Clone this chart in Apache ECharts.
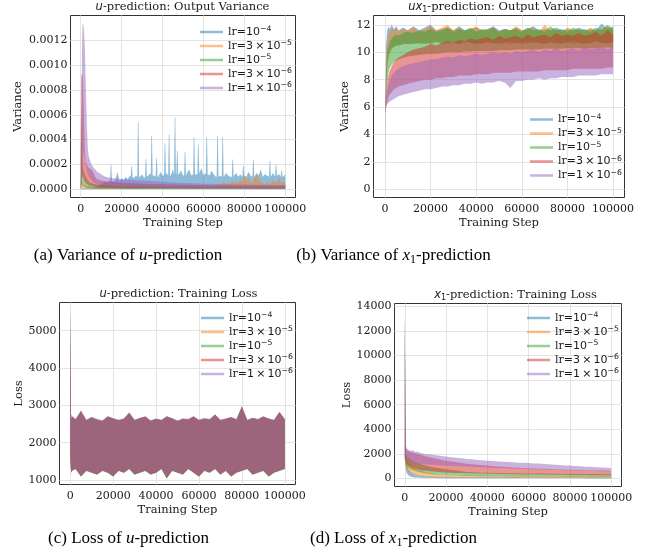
<!DOCTYPE html>
<html><head><meta charset="utf-8">
<script src="https://cdn.jsdelivr.net/npm/echarts@6/dist/echarts.min.js"></script>
<style>html,body{margin:0;padding:0;background:#fff}#c{width:646px;height:556px}</style>
</head><body><div id="c"></div>
<script>
// ---------------- data ----------------
const NAMES = ['lr=10⁻⁴', 'lr=3×10⁻⁵', 'lr=10⁻⁵', 'lr=3×10⁻⁶', 'lr=1×10⁻⁶'];
const X_TICKS = [0, 20000, 40000, 60000, 80000, 100000];
const A_Y_TICKS = [0, 0.0002, 0.0004, 0.0006, 0.0008, 0.0010, 0.0012];
const B_Y_TICKS = [0, 2, 4, 6, 8, 10, 12];
const C_Y_TICKS = [1000, 2000, 3000, 4000, 5000];
const D_Y_TICKS = [0, 2000, 4000, 6000, 8000, 10000, 12000, 14000];

// (a) u-prediction output variance
const A_STEPS = [0, 300, 600, 900, 1200, 1500, 2000, 2500, 3000, 3500, 4000, 5000, 6000, 7000, 8000, 10000, 12000, 15000, 18000, 21000, 25000, 30000, 35000, 40000, 45000, 50000, 55000, 60000, 65000, 70000, 75000, 80000, 85000, 90000, 95000, 100000];
// lr=1e-4 upper envelope as [step, variance] pairs (spiky)
const A_BLUE_HI_PTS = [[0, 0.000008], [1000, 0.00001], [2000, 0.000008], [3000, 0.00001], [4000, 0.000009], [5000, 0.00001], [6000, 0.000012], [7000, 0.000015], [8000, 0.00002], [9000, 0.00003], [10000, 0.00004], [11000, 0.00005], [12000, 0.00006], [13000, 0.00005], [14000, 0.00007],
  [14350, 0.00007], [14650, 0.0002], [14950, 0.0002], [15250, 0.00007],
  [16000, 0.00006], [17000, 0.00008], [18000, 0.00014], [19000, 0.00006], [20000, 0.00009], [21000, 0.00007], [22000, 0.0001], [23000, 0.00008], [24000, 0.00011],
  [24450, 0.0001], [24750, 0.000185], [25050, 0.000185], [25350, 0.0001],
  [26000, 0.00009], [27000, 0.00011],
  [27650, 0.0001], [27950, 0.00054], [28250, 0.00054], [28550, 0.0001],
  [29000, 0.0001], [30000, 0.00012], [31000, 0.00009],
  [31450, 0.0001], [31750, 0.000243], [32050, 0.000243], [32350, 0.0001],
  [33000, 0.00011], [34000, 0.00013],
  [34250, 0.00011], [34550, 0.00043], [34850, 0.00043], [35150, 0.00011],
  [36000, 0.00011],
  [36650, 0.0001], [36950, 0.00025], [37250, 0.00025], [37550, 0.0001],
  [38000, 0.0001], [39000, 0.00014], [40000, 0.00011],
  [40750, 0.00011], [41050, 0.00037], [41350, 0.00037], [41650, 0.00012],
  [42000, 0.00013],
  [42750, 0.00011], [43050, 0.00044], [43350, 0.00044], [43650, 0.00011],
  [44000, 0.00011], [45000, 0.00016],
  [45650, 0.00012], [45950, 0.00058], [46250, 0.00058], [46550, 0.00012],
  [46750, 0.00012], [47050, 0.00031], [47350, 0.00031], [47650, 0.00012],
  [48000, 0.00012], [49000, 0.00015], [50000, 0.00011],
  [50550, 0.00011], [50850, 0.0003], [51150, 0.0003], [51450, 0.00011],
  [52000, 0.00013], [53000, 0.00016], [54000, 0.00011],
  [54950, 0.00012], [55250, 0.00042], [55550, 0.00042], [55850, 0.00012],
  [56000, 0.00012],
  [57050, 0.00012], [57350, 0.00036], [57650, 0.00036], [57950, 0.00012],
  [58000, 0.00013], [59000, 0.00017], [60000, 0.00011], [61000, 0.00013],
  [61150, 0.00012], [61450, 0.00042], [61750, 0.00042], [62050, 0.00012],
  [63000, 0.00011], [64000, 0.00015], [65000, 0.00012], [66000, 0.0001],
  [66450, 0.0001], [66750, 0.00043], [67050, 0.00043], [67350, 0.0001],
  [68000, 0.00011],
  [68950, 0.0001], [69250, 0.00042], [69550, 0.00042], [69850, 0.0001],
  [70000, 0.0001], [71000, 0.00013], [72000, 0.00011], [73000, 0.0001],
  [73850, 0.0001], [74150, 0.00024], [74450, 0.00024], [74750, 0.0001],
  [75000, 0.00011], [76000, 0.00013], [77000, 0.0001], [78000, 0.00012],
  [79050, 0.0001], [79350, 0.00019], [79650, 0.00019], [79950, 0.0001],
  [80000, 0.00011], [81000, 0.0001], [82000, 0.00014], [83000, 0.00011],
  [83950, 0.0001], [84250, 0.00024], [84550, 0.00024], [84850, 0.0001],
  [85000, 0.0001], [86000, 0.00013], [87000, 0.00011], [88000, 0.00016], [89000, 0.0001], [90000, 0.00012], [91000, 0.00011],
  [92050, 0.0001], [92350, 0.00023], [92650, 0.00023], [92950, 0.0001],
  [93000, 0.0001], [94000, 0.00013],
  [95050, 0.0001], [95350, 0.0002], [95650, 0.0002], [95950, 0.0001],
  [96000, 0.00011], [97000, 0.00012],
  [97750, 0.0001], [98050, 0.00015], [98350, 0.00015], [98650, 0.0001],
  [99000, 0.0001], [100000, 0.00012]];
const A_BLUE_LO_STEPS = [0, 100000];
const A_BLUE_LO = [0, 0];
const A_ORANGE_STEPS = [0, 300, 600, 1000, 2000, 4000, 8000, 15000, 25000, 35000, 45000, 55000, 62000, 66000, 68000, 69000, 70000, 71000, 72000, 73000, 74000, 75000, 76000, 77000, 78000, 79000, 80000, 81000, 82000, 83000, 84000, 85000, 86000, 87000, 88000, 89000, 90000, 91000, 92000, 93000, 94000, 95000, 96000, 97000, 98000, 99000, 100000];
const A_ORANGE_HI = [0.00004, 0.0001, 0.00007, 0.00004, 0.00003, 0.000025, 0.00002, 0.00002, 0.000018, 0.000018, 0.000017, 0.000017, 0.000018, 0.00002, 0.000025, 0.00004, 0.00006, 0.00004, 0.00005, 0.00004, 0.00007, 0.00005, 0.00006, 0.00005, 0.00008, 0.00006, 0.00011, 0.00007, 0.00009, 0.00006, 0.00005, 0.0001, 0.00012, 0.00008, 0.00006, 0.00005, 0.00004, 0.00006, 0.00004, 0.00005, 0.00007, 0.00005, 0.00006, 0.00009, 0.00005, 0.00006, 0.00005];
const A_ORANGE_LO = [0, 0.00001, 0.00001, 0.000008, 0.000006, 0.000005, 0.000004, 0.000004, 0.000004, 0.000004, 0.000004, 0.000004, 0.000004, 0.000004, 0.000004, 0.000005, 0.000005, 0.000005, 0.000005, 0.000005, 0.000005, 0.000005, 0.000005, 0.000005, 0.000005, 0.000005, 0.000005, 0.000005, 0.000005, 0.000005, 0.000005, 0.000005, 0.000005, 0.000005, 0.000005, 0.000005, 0.000005, 0.000005, 0.000005, 0.000005, 0.000005, 0.000005, 0.000005, 0.000005, 0.000005, 0.000005, 0.000005];
const A_GREEN_HI = [0.0002, 0.0006, 0.0004, 0.0002, 0.00016, 0.00014, 0.00012, 0.0001, 0.00008, 0.00007, 0.00006, 0.00005, 0.000045, 0.00004, 0.000038, 0.000035, 0.000032, 0.00003, 0.000028, 0.000026, 0.000025, 0.000024, 0.000022, 0.000021, 0.00002, 0.00002, 0.000019, 0.000018, 0.000018, 0.000017, 0.000016, 0.000016, 0.000015, 0.000015, 0.000014, 0.000014];
const A_GREEN_LO = [0, 0.00003, 0.00004, 0.00003, 0.000025, 0.00002, 0.000018, 0.000015, 0.000012, 0.00001, 0.000009, 0.000008, 0.000007, 0.000006, 0.000006, 0.000005, 0.000005, 0.000005, 0.000005, 0.000004, 0.000004, 0.000004, 0.000004, 0.000004, 0.000004, 0.000003, 0.000003, 0.000003, 0.000003, 0.000003, 0.000003, 0.000003, 0.000003, 0.000003, 0.000003, 0.000003];
const A_RED_HI = [0.00034, 0.0009, 0.00093, 0.00092, 0.0008, 0.0006, 0.0003, 0.00022, 0.0002, 0.00018, 0.00017, 0.00016, 0.00014, 0.0001, 0.00008, 0.00007, 0.000065, 0.00006, 0.000055, 0.00005, 0.000048, 0.000045, 0.000042, 0.00004, 0.000038, 0.000036, 0.000035, 0.000034, 0.000033, 0.000032, 0.00003, 0.00003, 0.000029, 0.000028, 0.000028, 0.000027];
const A_RED_LO = [0, 0.00005, 0.0001, 0.0001, 0.0001, 0.00008, 0.00006, 0.00005, 0.00004, 0.00004, 0.00003, 0.00003, 0.000025, 0.00002, 0.000018, 0.000015, 0.000014, 0.000013, 0.000012, 0.000011, 0.00001, 0.00001, 0.00001, 0.000009, 0.000009, 0.000009, 0.000008, 0.000008, 0.000008, 0.000007, 0.000007, 0.000007, 0.000006, 0.000006, 0.000006, 0.000006];
const A_PURPLE_HI = [0.00005, 0.0002, 0.0011, 0.00133, 0.00133, 0.0013, 0.00115, 0.00082, 0.00052, 0.00032, 0.00026, 0.00021, 0.00018, 0.00016, 0.00014, 0.00012, 0.0001, 0.00009, 0.000085, 0.00008, 0.000075, 0.00007, 0.000065, 0.00006, 0.000055, 0.00005, 0.000048, 0.000045, 0.000043, 0.00004, 0.000039, 0.000038, 0.000037, 0.000036, 0.000035, 0.000035];
const A_PURPLE_LO = [0, 0.00002, 0.0001, 0.0002, 0.0003, 0.0003, 0.00025, 0.0002, 0.00015, 0.00012, 0.0001, 0.00008, 0.00006, 0.00005, 0.00004, 0.00003, 0.000025, 0.00002, 0.000018, 0.000016, 0.000015, 0.000013, 0.000012, 0.000011, 0.00001, 0.00001, 0.000009, 0.000009, 0.000008, 0.000008, 0.000008, 0.000007, 0.000007, 0.000007, 0.000006, 0.000006];

// (b) x1-prediction output variance
const B_STEPS = [0, 250, 500, 1000, 1500, 2000, 3000, 4000, 5000, 6000, 8000, 10000, 12500, 15000, 17500, 20000, 22500, 25000, 27500, 30000, 32500, 35000, 37500, 40000, 42500, 45000, 47500, 50000, 52500, 55000, 57500, 60000, 62500, 65000, 67500, 70000, 72500, 75000, 77500, 80000, 82500, 85000, 87500, 90000, 92500, 95000, 97500, 100000];
const B_BLUE_HI = [0, 7, 10.5, 11.6, 11.9, 11.7, 12.0, 11.7, 11.9, 11.6, 11.8, 11.6, 11.9, 11.6, 11.8, 12.0, 11.6, 11.7, 11.8, 11.6, 11.9, 11.6, 11.7, 11.8, 11.6, 11.7, 11.9, 11.6, 11.7, 11.6, 11.8, 11.6, 11.7, 11.9, 11.6, 11.7, 11.6, 11.8, 11.6, 11.7, 11.6, 11.8, 11.6, 11.7, 11.6, 12.1, 11.7, 11.9];
const B_BLUE_LO = [0, 5.5, 7.5, 9.3, 9.9, 10.1, 10.3, 10.4, 10.5, 10.5, 10.6, 10.6, 10.6, 10.7, 10.6, 10.7, 10.8, 10.6, 10.7, 10.7, 10.6, 10.8, 10.7, 10.6, 10.7, 10.8, 10.7, 10.6, 10.7, 10.8, 10.7, 10.6, 10.8, 10.7, 10.7, 10.6, 10.8, 10.7, 10.6, 10.7, 10.8, 10.7, 10.6, 10.7, 10.8, 10.7, 10.7, 10.8];
const B_ORANGE_HI = [0, 6.8, 9.5, 10.8, 11.3, 11.5, 11.7, 11.6, 11.8, 11.5, 11.7, 11.6, 11.8, 11.5, 11.7, 11.9, 11.6, 11.8, 12.0, 11.6, 11.8, 11.5, 11.7, 11.9, 11.6, 11.7, 11.8, 11.5, 11.7, 11.6, 11.9, 11.6, 11.7, 11.8, 11.5, 12.0, 11.6, 11.7, 11.5, 11.8, 11.6, 11.7, 11.5, 11.8, 11.6, 11.7, 11.9, 11.6];
const B_ORANGE_LO = [0, 5.5, 7.0, 8.6, 9.4, 9.8, 10.2, 10.4, 10.5, 10.5, 10.6, 10.6, 10.7, 10.6, 10.7, 10.6, 10.7, 10.8, 10.6, 10.7, 10.6, 10.7, 10.8, 10.7, 10.6, 10.7, 10.6, 10.8, 10.7, 10.6, 10.7, 10.7, 10.6, 10.8, 10.7, 10.6, 10.7, 10.6, 10.7, 10.8, 10.6, 10.7, 10.7, 10.6, 10.8, 10.7, 10.6, 10.7];
const B_GREEN_HI = [0, 6.5, 8.5, 10.0, 10.4, 10.7, 11.0, 11.2, 11.3, 11.2, 11.4, 11.5, 11.4, 11.6, 11.5, 11.7, 11.5, 11.6, 11.8, 11.5, 11.7, 11.6, 11.8, 11.5, 11.7, 11.6, 11.8, 11.5, 11.7, 11.6, 11.7, 11.5, 11.8, 11.6, 11.7, 11.5, 11.9, 11.6, 11.7, 11.5, 11.8, 11.6, 11.7, 11.5, 11.8, 11.6, 12.0, 11.7];
const B_GREEN_LO = [0, 5.5, 6.5, 7.8, 8.4, 8.8, 9.1, 9.3, 9.4, 9.5, 9.6, 9.7, 9.75, 9.8, 9.85, 9.9, 9.9, 9.95, 10.0, 10.0, 10.0, 10.05, 10.05, 10.1, 10.1, 10.1, 10.1, 10.15, 10.15, 10.15, 10.2, 10.2, 10.2, 10.2, 10.2, 10.25, 10.25, 10.25, 10.25, 10.3, 10.3, 10.3, 10.3, 10.3, 10.3, 10.35, 10.35, 10.35];
const B_RED_HI = [0, 6.3, 7.0, 7.8, 8.3, 8.6, 9.0, 9.3, 9.5, 9.6, 9.8, 10.0, 10.2, 10.3, 10.4, 10.6, 10.5, 10.7, 10.8, 10.7, 10.9, 10.8, 11.0, 10.9, 11.0, 11.1, 10.9, 11.2, 11.0, 11.1, 11.2, 11.0, 11.3, 11.1, 11.2, 11.3, 11.1, 11.4, 11.2, 11.3, 11.2, 11.4, 11.2, 11.3, 11.5, 11.2, 11.6, 11.3];
const B_RED_LO = [0, 5.5, 6.0, 6.4, 6.7, 6.9, 7.1, 7.3, 7.4, 7.5, 7.6, 7.7, 7.8, 7.9, 8.0, 8.0, 8.1, 8.1, 8.2, 8.2, 8.3, 8.3, 8.3, 8.4, 8.4, 8.4, 8.5, 8.5, 8.5, 8.5, 8.6, 8.6, 8.6, 8.6, 8.6, 8.7, 8.7, 8.7, 8.7, 8.7, 8.8, 8.8, 8.8, 8.8, 8.8, 8.8, 8.9, 8.9];
const B_PURPLE_HI = [0, 6.2, 6.7, 7.2, 7.6, 7.9, 8.3, 8.5, 8.7, 8.8, 9.0, 9.1, 9.2, 9.3, 9.4, 9.5, 9.5, 9.6, 9.7, 9.6, 9.8, 9.7, 9.8, 9.9, 9.8, 9.9, 10.0, 9.9, 10.0, 9.9, 10.1, 10.0, 10.1, 10.2, 10.0, 10.2, 10.1, 10.3, 10.1, 10.2, 10.3, 10.1, 10.4, 10.2, 10.3, 10.4, 10.2, 10.4];
const B_PURPLE_LO = [0, 5.5, 6.0, 6.2, 6.3, 6.4, 6.5, 6.6, 6.7, 6.8, 6.9, 7.0, 7.1, 7.2, 7.3, 7.3, 7.4, 7.5, 7.5, 7.6, 7.6, 7.7, 7.7, 7.8, 7.7, 7.8, 7.8, 7.9, 7.8, 7.4, 7.9, 7.9, 8.0, 8.0, 8.1, 8.0, 8.1, 8.1, 8.2, 8.2, 8.2, 8.3, 8.3, 8.3, 8.3, 8.4, 8.4, 8.4];

// (c) u-prediction training loss (all five runs nearly coincide)
const C_STEPS = [0, 400, 800, 2500, 5000, 7500, 10000, 12500, 15000, 17500, 20000, 22500, 25000, 27500, 30000, 32500, 35000, 37500, 40000, 42500, 45000, 47500, 50000, 52500, 55000, 57500, 60000, 62500, 65000, 67500, 70000, 72500, 75000, 77500, 80000, 82500, 85000, 87500, 90000, 92500, 95000, 97500, 100000];
const C_BLUE_HI = [5520, 2630, 2690, 2610, 2830, 2610, 2670, 2600, 2590, 2690, 2640, 2610, 2630, 2790, 2590, 2650, 2690, 2590, 2630, 2610, 2690, 2640, 2590, 2630, 2610, 2690, 2610, 2640, 2610, 2740, 2610, 2630, 2670, 2610, 2950, 2610, 2650, 2610, 2690, 2630, 2610, 2800, 2610];
const C_BLUE_LO = [1690, 1190, 1240, 1290, 1090, 1240, 1190, 1140, 1240, 1190, 1090, 1240, 1190, 1290, 1140, 1190, 1240, 1140, 1190, 1290, 1040, 1240, 1190, 1140, 1290, 1190, 1090, 1240, 1190, 1290, 1140, 1240, 1090, 1190, 1240, 1290, 1140, 1190, 1240, 1090, 1190, 1240, 1290];
const C_ORANGE_HI = [5530, 2640, 2700, 2630, 2840, 2600, 2690, 2610, 2580, 2710, 2640, 2600, 2650, 2790, 2610, 2650, 2700, 2580, 2650, 2600, 2710, 2640, 2580, 2650, 2620, 2710, 2600, 2640, 2630, 2740, 2600, 2650, 2680, 2610, 2960, 2600, 2670, 2620, 2690, 2650, 2600, 2810, 2630];
const C_ORANGE_LO = [1700, 1210, 1250, 1300, 1110, 1250, 1210, 1150, 1260, 1200, 1110, 1250, 1210, 1300, 1160, 1200, 1260, 1150, 1210, 1300, 1060, 1250, 1210, 1150, 1310, 1200, 1110, 1250, 1210, 1300, 1160, 1250, 1110, 1200, 1260, 1300, 1160, 1200, 1260, 1110, 1200, 1260, 1300];
const C_GREEN_HI = [5540, 2650, 2690, 2620, 2850, 2590, 2680, 2620, 2570, 2700, 2650, 2590, 2640, 2800, 2600, 2660, 2690, 2580, 2640, 2590, 2700, 2650, 2570, 2640, 2620, 2700, 2590, 2650, 2620, 2750, 2590, 2640, 2680, 2620, 2960, 2590, 2660, 2620, 2700, 2640, 2590, 2820, 2620];
const C_GREEN_LO = [1710, 1200, 1260, 1310, 1100, 1260, 1200, 1160, 1250, 1210, 1100, 1260, 1200, 1310, 1150, 1210, 1250, 1160, 1200, 1310, 1050, 1260, 1200, 1160, 1300, 1210, 1100, 1260, 1200, 1310, 1150, 1260, 1100, 1210, 1250, 1310, 1150, 1210, 1250, 1100, 1210, 1250, 1310];
const C_RED_HI = [5550, 2650, 2700, 2620, 2850, 2600, 2680, 2620, 2580, 2700, 2650, 2600, 2640, 2800, 2600, 2660, 2700, 2580, 2640, 2600, 2700, 2650, 2580, 2640, 2620, 2700, 2600, 2650, 2620, 2750, 2600, 2640, 2680, 2620, 2970, 2600, 2660, 2620, 2700, 2640, 2600, 2820, 2620];
const C_RED_LO = [1700, 1200, 1250, 1300, 1100, 1250, 1200, 1150, 1250, 1200, 1100, 1250, 1200, 1300, 1150, 1200, 1250, 1150, 1200, 1300, 1050, 1250, 1200, 1150, 1300, 1200, 1100, 1250, 1200, 1300, 1150, 1250, 1100, 1200, 1250, 1300, 1150, 1200, 1250, 1100, 1200, 1250, 1300];
const C_PURPLE_HI = [5560, 2750, 2720, 2640, 2860, 2620, 2690, 2640, 2600, 2710, 2660, 2620, 2650, 2810, 2620, 2670, 2710, 2600, 2650, 2620, 2710, 2660, 2600, 2650, 2640, 2710, 2620, 2660, 2640, 2760, 2620, 2650, 2690, 2640, 2980, 2620, 2670, 2640, 2710, 2650, 2620, 2830, 2640];
const C_PURPLE_LO = [1720, 1220, 1260, 1310, 1120, 1260, 1220, 1170, 1260, 1220, 1120, 1260, 1220, 1310, 1170, 1220, 1260, 1170, 1220, 1310, 1070, 1260, 1220, 1170, 1310, 1220, 1120, 1260, 1220, 1310, 1170, 1260, 1120, 1220, 1260, 1310, 1170, 1220, 1260, 1120, 1220, 1260, 1310];

// (d) x1-prediction training loss
const D_STEPS = [0, 300, 600, 1000, 1500, 2000, 3000, 4000, 5000, 6000, 8000, 10000, 12500, 15000, 17500, 20000, 22500, 25000, 27500, 30000, 32500, 35000, 37500, 40000, 42500, 45000, 47500, 50000, 52500, 55000, 57500, 60000, 62500, 65000, 67500, 70000, 72500, 75000, 77500, 80000, 82500, 85000, 87500, 90000, 92500, 95000, 97500, 100000];
const D_BLUE_HI = [13200, 2500, 1500, 1100, 850, 700, 500, 400, 330, 280, 220, 180, 160, 150, 140, 135, 130, 128, 126, 124, 122, 120, 119, 118, 117, 116, 115, 114, 113, 112, 111, 110, 110, 109, 109, 108, 108, 107, 107, 106, 106, 105, 105, 104, 104, 103, 103, 102];
const D_BLUE_LO = [1500, 1000, 600, 400, 300, 220, 150, 110, 90, 80, 60, 50, 40, 35, 30, 28, 26, 25, 24, 23, 22, 21, 20, 20, 19, 19, 18, 18, 17, 17, 16, 16, 15, 15, 14, 14, 13, 13, 12, 12, 11, 11, 10, 10, 10, 10, 10, 10];
const D_ORANGE_HI = [13300, 3000, 1700, 1500, 1350, 1250, 1050, 900, 800, 720, 600, 500, 420, 360, 330, 300, 285, 270, 260, 250, 245, 240, 235, 230, 228, 225, 222, 220, 218, 216, 214, 212, 210, 208, 206, 205, 204, 203, 202, 201, 200, 199, 198, 197, 196, 195, 194, 193];
const D_ORANGE_LO = [1600, 1200, 900, 700, 600, 520, 420, 350, 300, 260, 200, 160, 130, 110, 100, 95, 90, 88, 86, 84, 82, 80, 78, 77, 76, 75, 74, 73, 72, 71, 70, 69, 68, 67, 66, 65, 64, 63, 62, 61, 60, 60, 59, 59, 58, 58, 57, 57];
const D_GREEN_HI = [13400, 4000, 1900, 1800, 1750, 1700, 1550, 1450, 1350, 1300, 1150, 1050, 950, 880, 820, 760, 700, 640, 580, 530, 500, 480, 470, 460, 450, 445, 440, 430, 425, 420, 415, 410, 405, 400, 400, 395, 390, 385, 380, 380, 375, 370, 370, 365, 360, 360, 355, 350];
const D_GREEN_LO = [1700, 1400, 1100, 1000, 900, 850, 750, 700, 620, 560, 480, 420, 370, 330, 300, 280, 260, 240, 225, 210, 200, 195, 190, 185, 180, 178, 175, 172, 170, 168, 166, 164, 162, 160, 158, 156, 155, 154, 152, 150, 149, 148, 147, 146, 145, 144, 143, 142];
const D_RED_HI = [13500, 5000, 2400, 2300, 2250, 2200, 2150, 2100, 2050, 2000, 1900, 1800, 1700, 1600, 1520, 1450, 1380, 1320, 1260, 1200, 1150, 1120, 1080, 1050, 1010, 980, 950, 930, 900, 880, 860, 840, 820, 800, 790, 770, 760, 740, 720, 710, 700, 690, 680, 670, 660, 650, 640, 630];
const D_RED_LO = [1700, 1500, 1300, 1200, 1100, 1050, 950, 850, 800, 750, 680, 620, 580, 540, 510, 490, 470, 450, 440, 430, 420, 410, 400, 390, 380, 370, 360, 350, 345, 340, 335, 330, 325, 320, 315, 310, 305, 300, 295, 290, 285, 280, 275, 270, 265, 260, 255, 250];
const D_PURPLE_HI = [13550, 6000, 2600, 2450, 2350, 2300, 2250, 2300, 2150, 2200, 2050, 2000, 1950, 1880, 1820, 1780, 1720, 1690, 1640, 1580, 1560, 1500, 1480, 1450, 1420, 1390, 1360, 1340, 1330, 1290, 1280, 1250, 1220, 1210, 1170, 1150, 1120, 1100, 1060, 1050, 1010, 990, 960, 950, 910, 900, 880, 860];
const D_PURPLE_LO = [1800, 1700, 1600, 1500, 1450, 1400, 1350, 1300, 1250, 1220, 1180, 1150, 1120, 1100, 1080, 1060, 1040, 1020, 1000, 980, 960, 940, 920, 900, 880, 860, 850, 840, 820, 800, 790, 780, 760, 750, 740, 720, 710, 700, 680, 670, 660, 640, 630, 620, 600, 590, 580, 570];

// ---------------- styling ----------------
const SERIF = 'DejaVu Serif';
const SANS = 'DejaVu Sans';
const TXT = '#1a1a1a';
const FS = 11.5;
const TICK_FS = 11;
const COLORS = ['rgba(31,119,180,0.5)', 'rgba(255,127,14,0.5)', 'rgba(44,160,44,0.5)', 'rgba(214,39,40,0.5)', 'rgba(148,103,189,0.5)'];
const LEG_TEXT = {
  'lr=10⁻⁴': '{s|lr=}{n|10}{p|−4}',
  'lr=3×10⁻⁵': '{s|lr=}{n|3\u2009×\u200910}{p|−5}',
  'lr=10⁻⁵': '{s|lr=}{n|10}{p|−5}',
  'lr=3×10⁻⁶': '{s|lr=}{n|3\u2009×\u200910}{p|−6}',
  'lr=1×10⁻⁶': '{s|lr=}{n|1\u2009×\u200910}{p|−6}'
};

const GRIDS = [
  {left: 70.5, top: 15.5, width: 225, height: 182},
  {left: 373.5, top: 15.5, width: 251, height: 182},
  {left: 59.5, top: 302.5, width: 236, height: 182},
  {left: 394.5, top: 303.5, width: 227, height: 183}
];

function band(gi, k, xsHi, hi, xsLo, lo) {
  const color = COLORS[k];
  return {
    type: 'custom', name: NAMES[k], xAxisIndex: gi, yAxisIndex: gi,
    coordinateSystem: 'cartesian2d', clip: true, silent: true,
    itemStyle: {color: color},
    data: [[xsHi[0], hi[0]]],
    encode: {x: 0, y: 1},
    renderItem: function (params, api) {
      const pts = [];
      for (let i = 0; i < xsHi.length; i++) pts.push(api.coord([xsHi[i], hi[i]]));
      for (let i = xsLo.length - 1; i >= 0; i--) pts.push(api.coord([xsLo[i], lo[i]]));
      return {type: 'polygon', shape: {points: pts}, style: {fill: color, stroke: null}};
    }
  };
}

const A_BLUE_STEPS = A_BLUE_HI_PTS.map(p => p[0]);
const A_BLUE_HI = A_BLUE_HI_PTS.map(p => p[1]);

const series = [
  band(0, 0, A_BLUE_STEPS, A_BLUE_HI, A_BLUE_LO_STEPS, A_BLUE_LO),
  band(0, 1, A_ORANGE_STEPS, A_ORANGE_HI, A_ORANGE_STEPS, A_ORANGE_LO),
  band(0, 2, A_STEPS, A_GREEN_HI, A_STEPS, A_GREEN_LO),
  band(0, 3, A_STEPS, A_RED_HI, A_STEPS, A_RED_LO),
  band(0, 4, A_STEPS, A_PURPLE_HI, A_STEPS, A_PURPLE_LO),
  band(1, 0, B_STEPS, B_BLUE_HI, B_STEPS, B_BLUE_LO),
  band(1, 1, B_STEPS, B_ORANGE_HI, B_STEPS, B_ORANGE_LO),
  band(1, 2, B_STEPS, B_GREEN_HI, B_STEPS, B_GREEN_LO),
  band(1, 3, B_STEPS, B_RED_HI, B_STEPS, B_RED_LO),
  band(1, 4, B_STEPS, B_PURPLE_HI, B_STEPS, B_PURPLE_LO),
  band(2, 0, C_STEPS, C_BLUE_HI, C_STEPS, C_BLUE_LO),
  band(2, 1, C_STEPS, C_ORANGE_HI, C_STEPS, C_ORANGE_LO),
  band(2, 2, C_STEPS, C_GREEN_HI, C_STEPS, C_GREEN_LO),
  band(2, 3, C_STEPS, C_RED_HI, C_STEPS, C_RED_LO),
  band(2, 4, C_STEPS, C_PURPLE_HI, C_STEPS, C_PURPLE_LO),
  band(3, 0, D_STEPS, D_BLUE_HI, D_STEPS, D_BLUE_LO),
  band(3, 1, D_STEPS, D_ORANGE_HI, D_STEPS, D_ORANGE_LO),
  band(3, 2, D_STEPS, D_GREEN_HI, D_STEPS, D_GREEN_LO),
  band(3, 3, D_STEPS, D_RED_HI, D_STEPS, D_RED_LO),
  band(3, 4, D_STEPS, D_PURPLE_HI, D_STEPS, D_PURPLE_LO)
];

const GRID_LINE = {show: true, lineStyle: {color: '#e4e4e4', width: 1}};
const NAME_FONT = {color: TXT, fontFamily: SERIF, fontSize: FS};
const TICK_FONT = {color: TXT, fontFamily: SERIF, fontSize: TICK_FS};

function xAxis(gi) {
  return {
    type: 'value', gridIndex: gi, min: -5000, max: 105000,
    name: 'Training Step', nameLocation: 'middle', nameGap: 20,
    nameTextStyle: NAME_FONT,
    axisLine: {show: false}, axisTick: {show: false, customValues: X_TICKS},
    axisLabel: Object.assign({customValues: X_TICKS, margin: 6, formatter: v => String(v)}, TICK_FONT),
    splitLine: GRID_LINE
  };
}
function yAxis(gi, min, max, ticks, name, gap, fmt) {
  return {
    type: 'value', gridIndex: gi, min: min, max: max,
    name: name, nameLocation: 'middle', nameRotate: 90, nameGap: gap,
    nameTextStyle: NAME_FONT,
    axisLine: {show: false}, axisTick: {show: false, customValues: ticks},
    axisLabel: Object.assign({customValues: ticks, margin: 3, formatter: fmt}, TICK_FONT),
    splitLine: GRID_LINE
  };
}

function legend(left, top) {
  return {
    orient: 'vertical', left: left, top: top, data: NAMES,
    icon: 'rect', itemWidth: 23, itemHeight: 2.5, itemGap: 2,
    selectedMode: false,
    formatter: function (n) { return LEG_TEXT[n]; },
    textStyle: {
      color: TXT, fontFamily: SERIF, fontSize: 11,
      rich: {
        s: {fontFamily: SERIF, fontSize: 11, lineHeight: 13, color: TXT},
        n: {fontFamily: SANS, fontSize: 11, lineHeight: 13, color: TXT},
        p: {fontFamily: SANS, fontSize: 7.7, color: TXT, verticalAlign: 'top'}
      }
    }
  };
}

function title(x, y, text) {
  return {
    type: 'text', x: x, y: y,
    style: {
      text: text, align: 'center', verticalAlign: 'middle', fill: TXT,
      rich: {
        t: {fontFamily: SERIF, fontSize: FS, fill: TXT},
        m: {fontFamily: SANS, fontStyle: 'italic', fontSize: FS, fill: TXT},
        b: {fontFamily: SANS, fontSize: 8, fill: TXT, padding: [5, 0, 0, 0]}
      }
    }
  };
}
function caption(x, y, text) {
  return {
    type: 'text', x: x, y: y,
    style: {
      text: text, align: 'center', verticalAlign: 'middle', fill: '#000',
      rich: {
        t: {fontFamily: 'Liberation Serif', fontSize: 17, fill: '#000'},
        i: {fontFamily: 'Liberation Serif', fontStyle: 'italic', fontSize: 17, fill: '#000'},
        b: {fontFamily: 'Liberation Serif', fontSize: 12, fill: '#000', padding: [7, 0, 0, 0]}
      }
    }
  };
}

const option = {
  animation: false,
  backgroundColor: '#fff',
  grid: GRIDS.map(g => Object.assign({show: true, borderColor: '#333', borderWidth: 1, backgroundColor: 'transparent', containLabel: false}, g)),
  xAxis: [xAxis(0), xAxis(1), xAxis(2), xAxis(3)],
  yAxis: [
    yAxis(0, -0.0000667, 0.0014, A_Y_TICKS, 'Variance', 46, v => v.toFixed(4)),
    yAxis(1, -0.58, 12.68, B_Y_TICKS, 'Variance', 22, v => String(Math.round(v))),
    yAxis(2, 880, 5755, C_Y_TICKS, 'Loss', 33, v => String(Math.round(v))),
    yAxis(3, -650, 14220, D_Y_TICKS, 'Loss', 40, v => String(Math.round(v)))
  ],
  legend: [legend(195, 20.5), legend(525, 108), legend(196, 306.5), legend(522, 306.5)],
  series: series,
  graphic: [
    title(182.5, 7.5, '{m|u}{t|-prediction: Output Variance}'),
    title(501, 7.5, '{m|ux}{b|1}{t|-prediction: Output Variance}'),
    title(178.5, 294.5, '{m|u}{t|-prediction: Training Loss}'),
    title(515.5, 295, '{m|x}{b|1}{t|-prediction: Training Loss}'),
    caption(128, 256, '{t|(a) Variance of }{i|u}{t|-prediction}'),
    caption(393.5, 256, '{t|(b) Variance of }{i|x}{b|1}{t|-prediction}'),
    caption(128.5, 539, '{t|(c) Loss of }{i|u}{t|-prediction}'),
    caption(393.5, 539, '{t|(d) Loss of }{i|x}{b|1}{t|-prediction}')
  ]
};

const chart = echarts.init(document.getElementById('c'), null, {renderer: 'canvas'});
chart.setOption(option);
</script></body></html>
